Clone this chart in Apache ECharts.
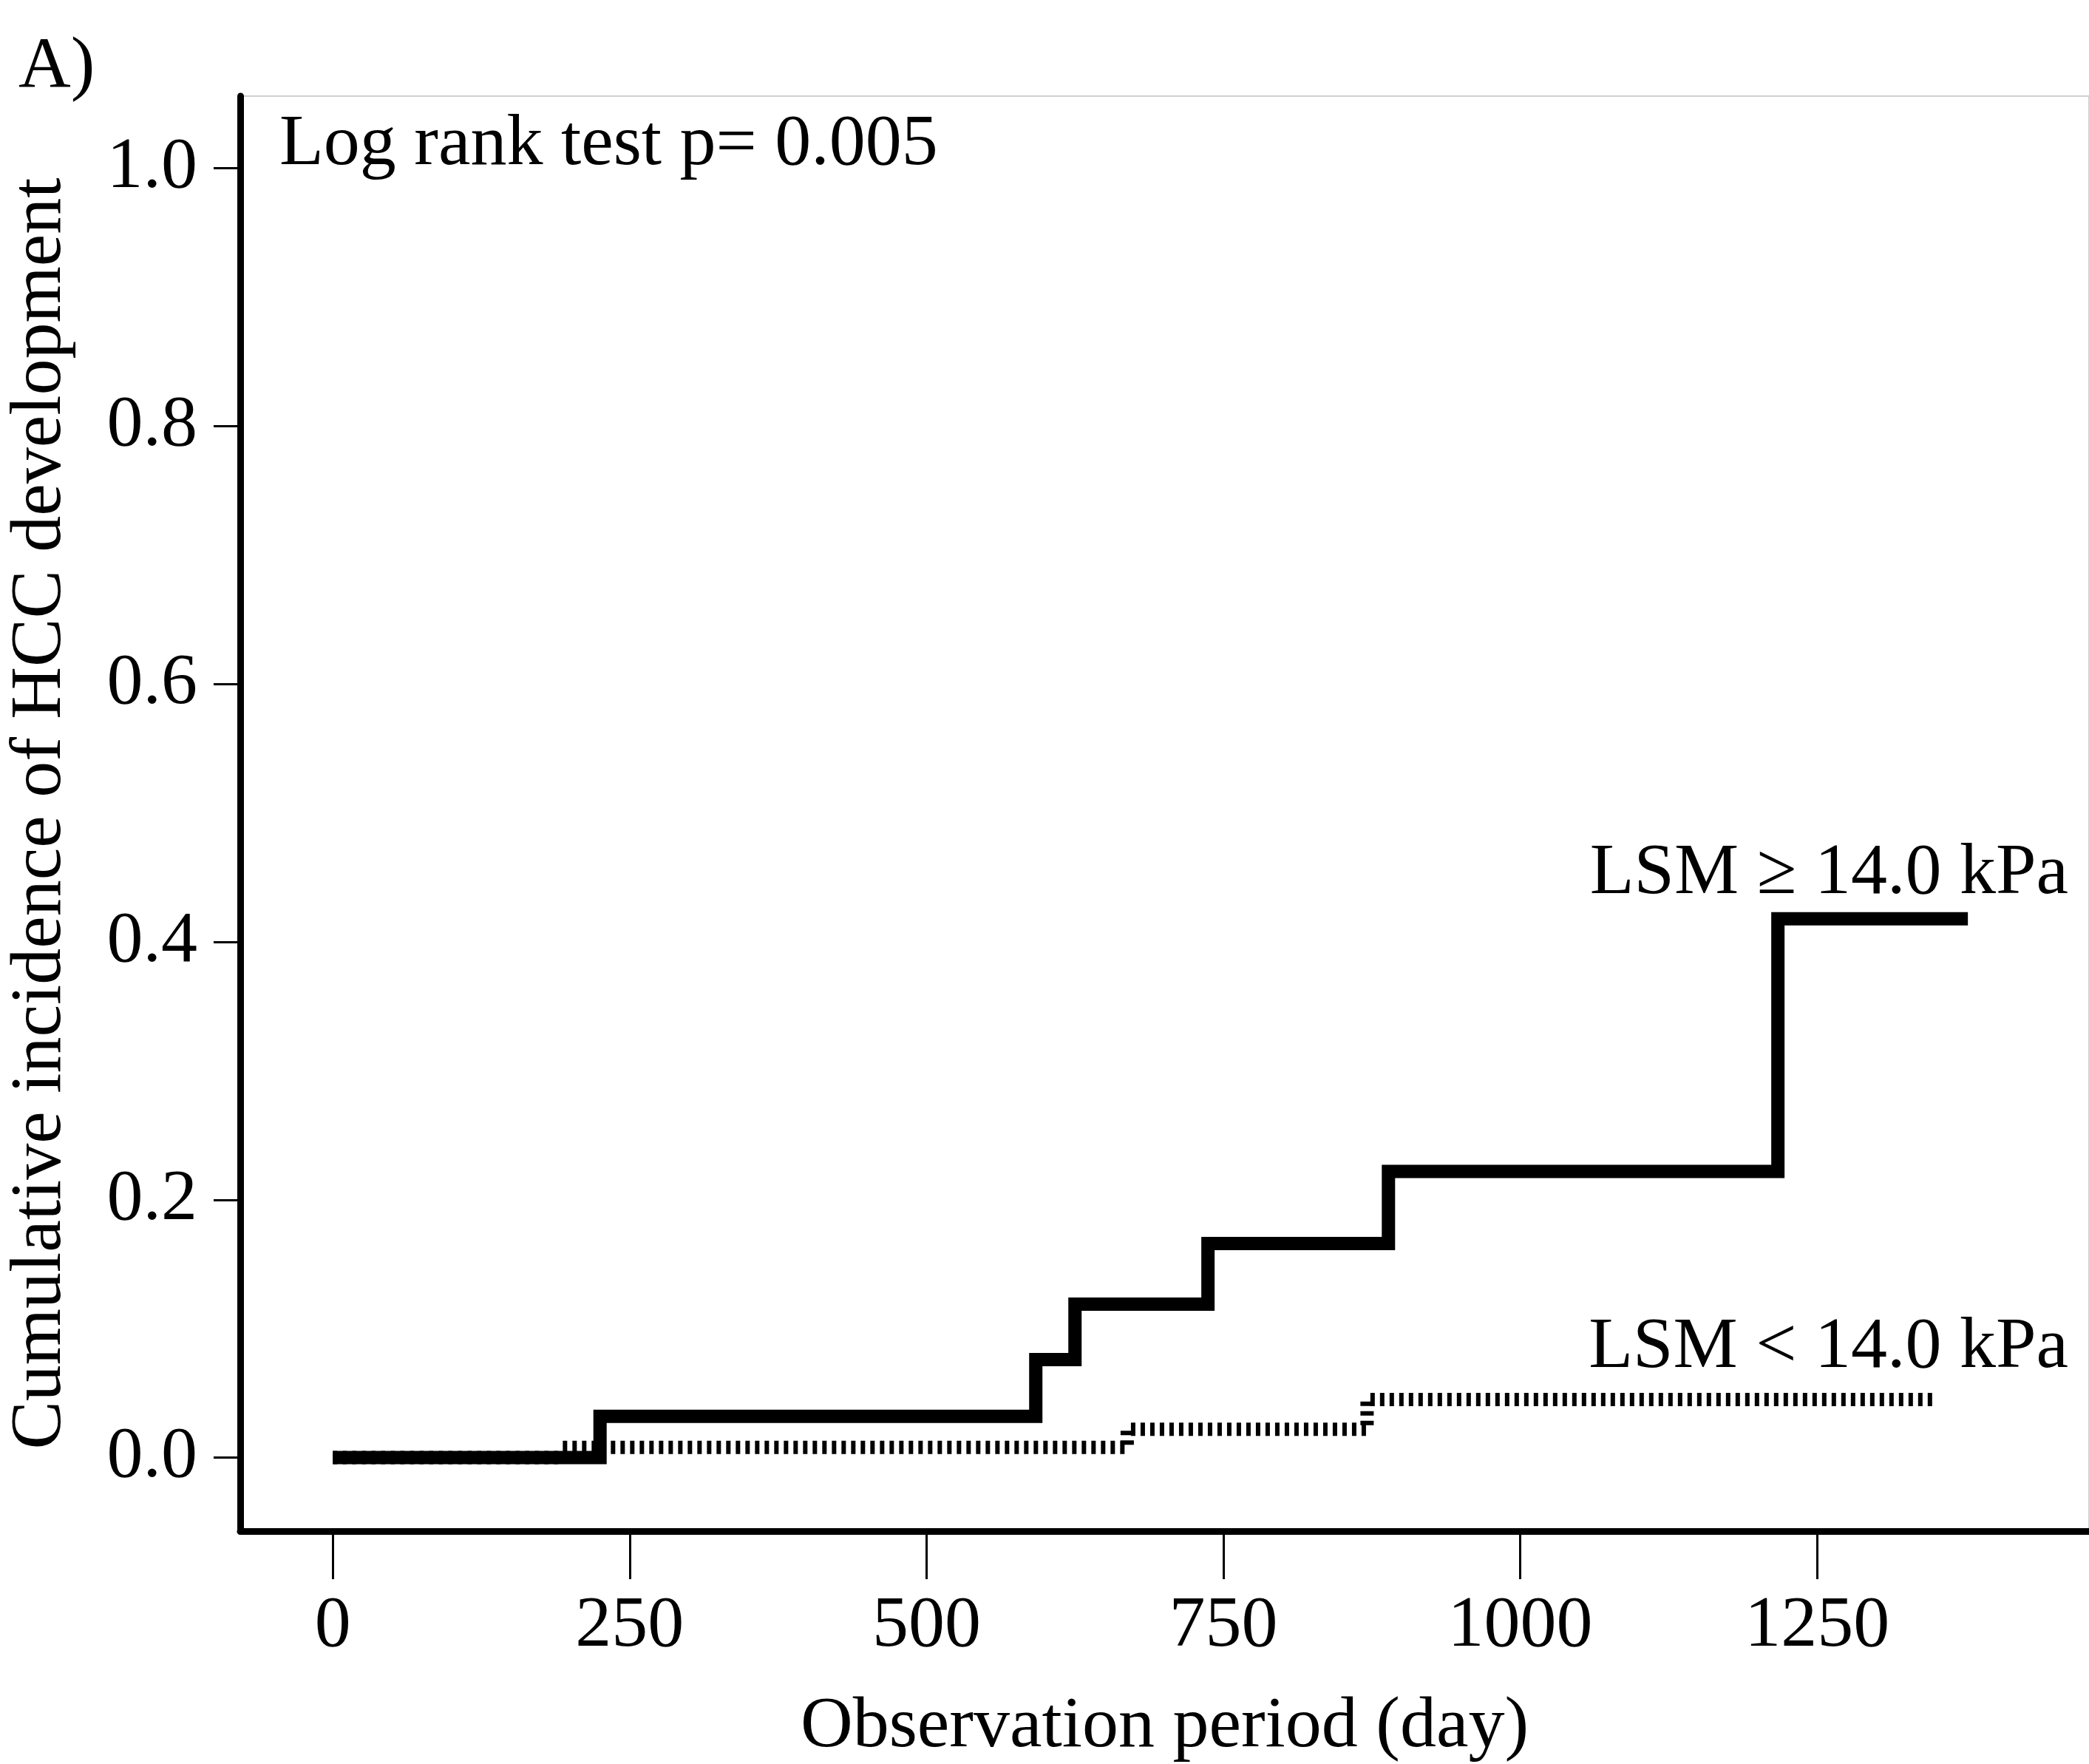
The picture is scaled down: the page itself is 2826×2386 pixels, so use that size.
<!DOCTYPE html>
<html>
<head>
<meta charset="utf-8">
<script src="https://cdn.jsdelivr.net/npm/echarts@6/dist/echarts.min.js"></script>
<style>
html,body{margin:0;padding:0;background:#fff;}
#c{width:2826px;height:2386px;}
</style>
</head>
<body>
<div id="c"></div>
<script>
// Data
const xTicks = [0, 250, 500, 750, 1000, 1250];
const yTicks = [0, 0.2, 0.4, 0.6, 0.8, 1.0];
const highDays = [0, 225, 592, 625, 737, 889, 1217, 1377];
const highCum  = [0, 0.032, 0.076, 0.119, 0.166, 0.222, 0.418, 0.418];
const lowDays  = [0, 193, 669, 871, 1349];
const lowCum   = [0, 0.008, 0.022, 0.045, 0.045];
const highLabel = 'LSM ≥ 14.0 kPa';
const lowLabel = 'LSM < 14.0 kPa';
const pText = 'Log rank test p= 0.005';
const panelLabel = 'A)';
const xName = 'Observation period (day)';
const yName = 'Cumulative incidence of HCC development';

const FONT = '"Liberation Serif", "Times New Roman", serif';
const FS = 98;

const chart = echarts.init(document.getElementById('c'));
chart.setOption({
  backgroundColor: '#fff',
  animation: false,
  grid: {left: 325, right: 0, top: 130, bottom: 315, show: true, borderColor: '#d0d0d0', borderWidth: 2,
    containLabel: false, outerBoundsMode: 'none'},
  xAxis: {
    type: 'value', min: -78, max: 1479,
    axisLine: {show: true, onZero: false, lineStyle: {color: '#000', width: 9}},
    axisTick: {show: true, customValues: xTicks, length: 65, lineStyle: {color: '#000', width: 3}},
    axisLabel: {show: true, customValues: xTicks, margin: 80, fontSize: FS, fontFamily: FONT, color: '#000',
      formatter: v => String(Math.round(v))},
    splitLine: {show: false},
    name: xName, nameLocation: 'middle', nameGap: 216,
    nameTextStyle: {fontSize: FS, fontFamily: FONT, color: '#000'}
  },
  yAxis: {
    type: 'value', min: -0.057, max: 1.056,
    axisLine: {show: true, onZero: false, lineStyle: {color: '#000', width: 9}},
    axisTick: {show: true, customValues: yTicks, length: 36, lineStyle: {color: '#000', width: 3}},
    axisLabel: {show: true, customValues: yTicks, margin: 58, fontSize: FS, fontFamily: FONT, color: '#000',
      formatter: v => v.toFixed(1)},
    splitLine: {show: false},
    name: yName, nameLocation: 'middle', nameGap: 221, nameRotate: 90,
    nameTextStyle: {fontSize: FS, fontFamily: FONT, color: '#000'}
  },
  series: [
    {
      type: 'line', step: 'end', symbol: 'none',
      data: lowDays.map((d, i) => [d, lowCum[i]]),
      lineStyle: {color: '#000', width: 18, type: [6, 7], cap: 'butt'}
    },
    {
      type: 'line', step: 'end', symbol: 'none',
      data: highDays.map((d, i) => [d, highCum[i]]),
      lineStyle: {color: '#000', width: 18, type: 'solid', cap: 'butt', join: 'miter'}
    }
  ],
  graphic: [
    {type: 'text', left: 25, top: 42, style: {text: panelLabel, font: FS + 'px ' + FONT, fill: '#000'}},
    {type: 'text', left: 378, top: 147, style: {text: pText, font: FS + 'px ' + FONT, fill: '#000'}},
    {type: 'text', right: 28, top: 1133, style: {text: highLabel, font: FS + 'px ' + FONT, fill: '#000'}},
    {type: 'text', right: 28, top: 1774, style: {text: lowLabel, font: FS + 'px ' + FONT, fill: '#000'}}
  ]
});
</script>
</body>
</html>
